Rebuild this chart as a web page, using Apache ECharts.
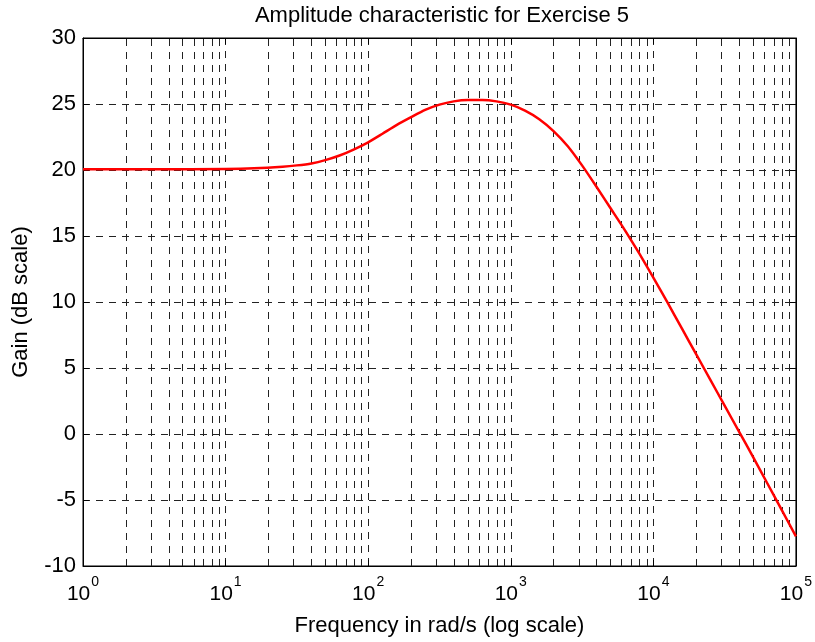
<!DOCTYPE html>
<html>
<head>
<meta charset="utf-8">
<script src="https://cdn.jsdelivr.net/npm/echarts@6/dist/echarts.min.js"></script>
<style>
html,body{margin:0;padding:0;background:#fff;}
#chart{width:815px;height:642px;}
</style>
</head>
<body>
<div id="chart"></div>
<script>
// Frequency (rad/s) and gain (dB)
const freq = [1, 3.16, 10, 15.8, 25.1, 31.6, 40, 50, 63, 79, 100, 126, 158, 200, 251, 316, 398, 501, 631, 794, 1000, 1259, 1585, 1995, 2512, 3162, 3981, 5012, 6310, 7943, 10000, 12589, 15849, 19953, 25119, 31623, 39811, 50119, 63096, 79433, 100000];
const gain = [20.05, 20.05, 20.08, 20.13, 20.25, 20.35, 20.5, 20.75, 21.1, 21.55, 22.1, 22.75, 23.4, 24.0, 24.55, 24.95, 25.2, 25.3, 25.3, 25.2, 24.95, 24.5, 23.85, 22.95, 21.8, 20.35, 18.75, 17.1, 15.45, 13.7, 11.85, 9.95, 8.0, 6.05, 4.1, 2.15, 0.2, -1.75, -3.75, -5.75, -7.75];
const yTicks = [-10, -5, 0, 5, 10, 15, 20, 25, 30];
const xMin = 1, xMax = 100000;
const titleText = 'Amplitude characteristic for Exercise 5';
const xName = 'Frequency in rad/s (log scale)';
const yName = 'Gain (dB scale)';

const FONT = 'Liberation Sans, Arial, sans-serif';
const gridDash = [7, 6];

// minor log grid positions (2..9 per decade)
const minorLines = [];
for (let d = xMin; d < xMax; d *= 10) {
  for (let m = 2; m <= 9; m++) minorLines.push({ xAxis: m * d });
}

const chart = echarts.init(document.getElementById('chart'), null, { renderer: 'canvas' });
const expFmt = v => '{b|10}{e|' + Math.round(Math.log10(v)) + '}';

chart.setOption({
  animation: false,
  backgroundColor: '#fff',
  title: {
    text: titleText,
    left: 437, top: 0, textAlign: 'center',
    textStyle: { fontFamily: FONT, fontSize: 22, fontWeight: 'normal', color: '#000' }
  },
  grid: { left: 83, top: 38, right: 19, bottom: 71, show: true, borderColor: '#000', borderWidth: 1, backgroundColor: 'transparent' },
  xAxis: [{
    type: 'log', logBase: 10, min: xMin, max: xMax,
    name: xName, nameLocation: 'middle', nameGap: 49,
    nameTextStyle: { fontFamily: FONT, fontSize: 22, color: '#000' },
    axisLine: { show: true, onZero: false, lineStyle: { color: '#000', width: 1 } },
    axisTick: { show: true, inside: true, length: 6, lineStyle: { color: '#000' } },
    splitLine: { show: true, lineStyle: { color: '#222', type: gridDash, width: 1 } },
    axisLabel: {
      color: '#000', margin: 9, formatter: expFmt,
      rich: {
        b: { fontFamily: FONT, fontSize: 21, color: '#000', lineHeight: 30, verticalAlign: 'bottom' },
        e: { fontFamily: FONT, fontSize: 14, color: '#000', verticalAlign: 'top', padding: [0, 0, 0, 1] }
      }
    }
  }, {
    type: 'log', logBase: 10, min: xMin, max: xMax, position: 'top',
    axisLine: { show: true, onZero: false, lineStyle: { color: '#000' } },
    axisTick: { show: true, inside: true, length: 6, lineStyle: { color: '#000' } },
    axisLabel: { show: false }, splitLine: { show: false }
  }],
  yAxis: [{
    type: 'value', min: -10, max: 30, interval: 5,
    name: yName, nameLocation: 'middle', nameGap: 51, nameRotate: 90,
    nameTextStyle: { fontFamily: FONT, fontSize: 22, color: '#000' },
    axisLine: { show: true, onZero: false, lineStyle: { color: '#000', width: 1 } },
    axisTick: { show: true, inside: true, length: 6, lineStyle: { color: '#000' } },
    splitLine: { show: true, lineStyle: { color: '#222', type: gridDash, width: 1 } },
    axisLabel: { fontFamily: FONT, fontSize: 22, color: '#000', margin: 7,
      formatter: v => yTicks.includes(v) ? String(v) : '' }
  }, {
    type: 'value', min: -10, max: 30, interval: 5, position: 'right',
    axisLine: { show: true, onZero: false, lineStyle: { color: '#000' } },
    axisTick: { show: true, inside: true, length: 6, lineStyle: { color: '#000' } },
    axisLabel: { show: false }, splitLine: { show: false }
  }],
  series: [{
    type: 'line',
    data: freq.map((f, i) => [f, gain[i]]),
    showSymbol: false, symbol: 'none', smooth: 0.2,
    lineStyle: { color: '#ff0000', width: 2.5, join: 'round' },
    z: 5,
    markLine: {
      silent: true, symbol: 'none', label: { show: false },
      lineStyle: { color: '#222', type: gridDash, width: 1 },
      data: minorLines, z: 1
    }
  }]
});
</script>
</body>
</html>
